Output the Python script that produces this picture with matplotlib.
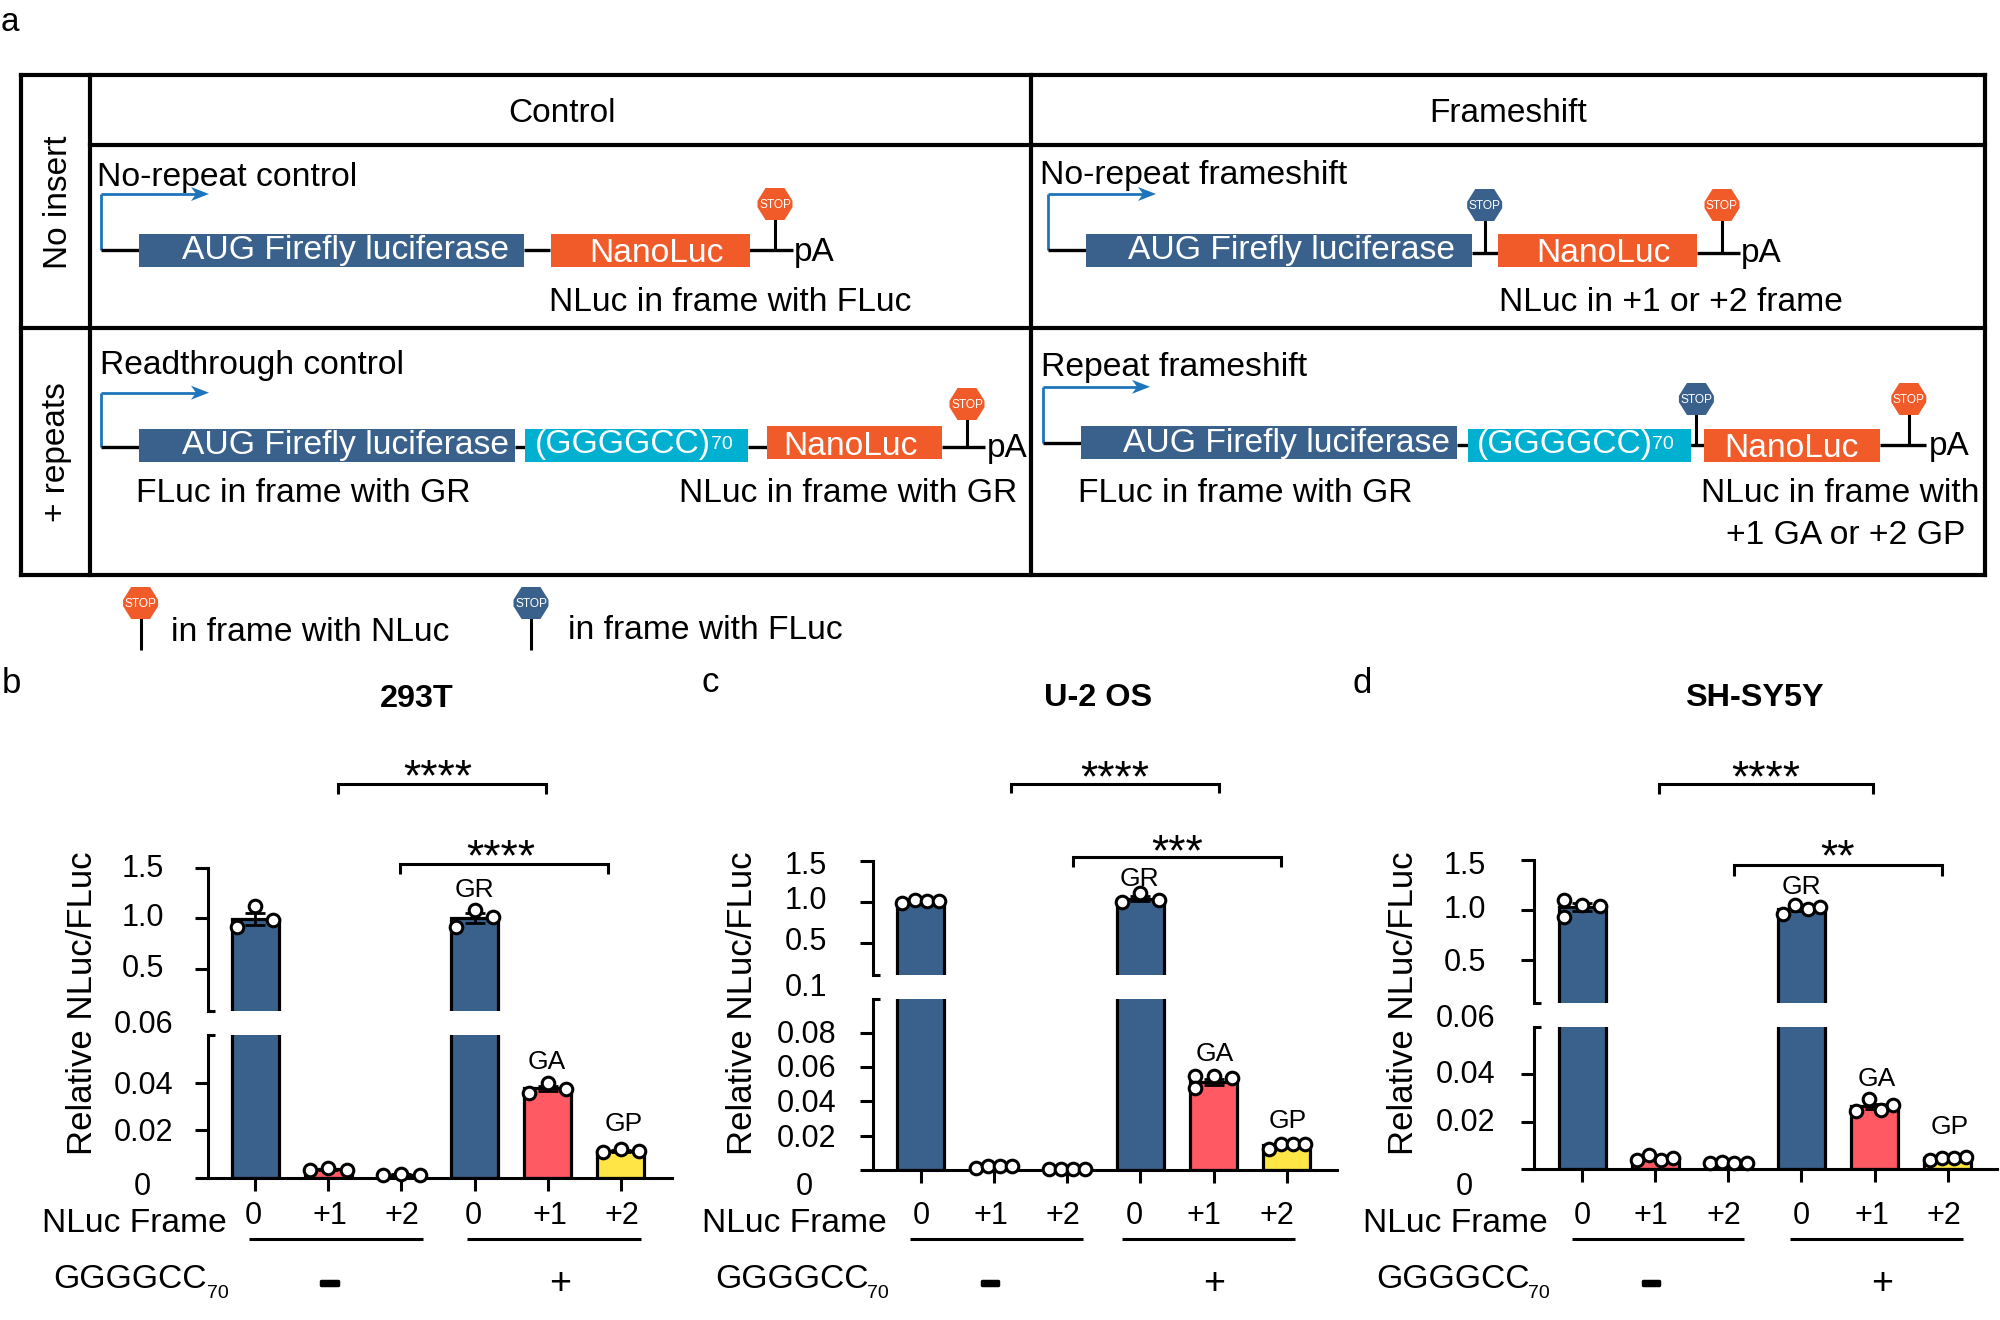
import matplotlib
matplotlib.use("Agg")
import matplotlib.pyplot as plt
import matplotlib.patheffects as pe
from matplotlib.patches import Polygon, Rectangle
from matplotlib.transforms import ScaledTranslation

plt.rcParams['font.family'] = ['Liberation Sans', 'DejaVu Sans']

BLUE = '#3A618C'; RED = '#FF5A64'; YEL = '#FFE545'; ORG = '#F15A29'; CYAN = '#00B0D0'; ARW = '#1F75BC'

frames = ['0', '+1', '+2', '0', '+1', '+2']
bar_colors = [BLUE, RED, YEL, BLUE, RED, YEL]

# ---- data
b_bars = [0.99, 0.0035, 0.0012, 1.00, 0.0377, 0.0112]
b_errs = [0.06, 0.0003, 0.0002, 0.05, 0.0012, 0.0005]
b_pts = [[0.91, 1.12, 0.98], [0.0032, 0.0040, 0.0032], [0.0010, 0.0016, 0.0010],
         [0.91, 1.08, 1.01], [0.0358, 0.0400, 0.0373], [0.0108, 0.0122, 0.0112]]
b_off = [[-.25, 0, .25]] * 6

c_bars = [1.01, 0.0018, 0.0004, 1.04, 0.0514, 0.0144]
c_errs = [0.01, 0.0002, 0.0001, 0.03, 0.0020, 0.0008]
c_pts = [[0.99, 1.02, 1.01, 1.01], [0.0012, 0.0020, 0.0020, 0.0020], [0.0003, 0.0005, 0.0004, 0.0005],
         [0.995, 1.105, 1.02], [0.0550, 0.0477, 0.0550, 0.0536], [0.0121, 0.0153, 0.0148, 0.0153]]
c_off = [[-.25, -.083, .083, .25], [-.25, -.083, .083, .25], [-.25, -.083, .083, .25],
         [-.25, 0, .25], [-.25, -.25, 0, .25], [-.25, -.083, .083, .25]]

d_bars = [1.03, 0.0047, 0.0028, 1.01, 0.0265, 0.0047]
d_errs = [0.04, 0.0004, 0.0002, 0.02, 0.0012, 0.0002]
d_pts = [[1.10, 0.93, 1.05, 1.04], [0.0041, 0.0059, 0.0041, 0.0048], [0.0025, 0.0032, 0.0025, 0.0028],
         [0.96, 1.05, 1.01, 1.03], [0.0247, 0.0297, 0.0249, 0.0272], [0.0041, 0.0048, 0.0048, 0.0050]]
d_off = [[-.25, -.25, 0, .25], [-.25, -.083, .083, .25], [-.25, -.083, .083, .25],
         [-.25, -.083, .083, .25], [-.25, -.083, .083, .25], [-.25, -.083, .083, .25]]

W, H = 2000, 1320
fig = plt.figure(figsize=(20, 13.2), dpi=100, facecolor='white')
ov = fig.add_axes([0, 0, 1, 1], zorder=5)
ov.set_xlim(0, W); ov.set_ylim(H, 0); ov.axis('off'); ov.patch.set_alpha(0)

PT = 100 / 72.0
def T(x, y, s, size, ha='center', color='k', weight='normal', rot=0, kind='cap', **kw):
    em = size * PT
    k = {'cap': 0.358, 'star': 0.49, 'low': 0.27}[kind]
    if rot == 90:
        return ov.text(x + k * em, y, s, fontsize=size, color=color, weight=weight, rotation=90,
                       rotation_mode='anchor', ha=ha, va='baseline', zorder=6, **kw)
    return ov.text(x, y + k * em, s, fontsize=size, color=color, weight=weight, ha=ha, va='baseline', zorder=6, **kw)

def L(xs, ys, lw=2.2, c='k', z=2, cap='butt'):
    ov.plot(xs, ys, color=c, lw=lw, zorder=z, solid_capstyle=cap, solid_joinstyle='miter')

def box(x0, x1, y0, y1, c, z=3):
    ov.add_patch(Rectangle((x0, y0), x1 - x0, y1 - y0, fc=c, ec='none', zorder=z))

def stop(cx, cy, c):
    w, h = 35, 32
    pts = [(-.5, -.1), (-.27, -.5), (.27, -.5), (.5, -.1), (.5, .1), (.27, .5), (-.27, .5), (-.5, .1)]
    ov.add_patch(Polygon([(cx + a * w, cy + b * h) for a, b in pts], closed=True, fc=c, ec='none', zorder=4))
    T(cx, cy, 'STOP', 8.6, color='white')

def promoter(x, y0, y1, tip, xbox):
    L([x, x], [y0, y1], lw=2, c=ARW)
    L([x, tip - 12], [y1, y1], lw=2, c=ARW)
    ov.add_patch(Polygon([(tip, y1), (tip - 18, y1 - 7), (tip - 13, y1), (tip - 18, y1 + 7)],
                         closed=True, fc=ARW, ec='none', zorder=3))
    L([x, xbox], [y0, y0], lw=2.4)

# ---- table
for xs, ys in [([21, 1985], [75, 75]), ([21, 1985], [575, 575]), ([21, 1985], [328, 328]), ([90, 1985], [145, 145]),
               ([21, 21], [75, 575]), ([90, 90], [75, 575]), ([1031, 1031], [75, 575]), ([1985, 1985], [75, 575])]:
    L(xs, ys, lw=3, cap='projecting')

T(10, 22, 'a', 24, kind='low')
T(562, 110, 'Control', 24)
T(1508, 110, 'Frameshift', 24)
T(55, 202, 'No insert', 24, rot=90)
T(53, 452, '+ repeats', 24, rot=90)

# No-repeat control
T(97, 174, 'No-repeat control', 24.3, ha='left')
promoter(101, 250, 194, 209, 139)
L([524, 550], [250, 250], lw=2.4); L([749, 793], [250, 250], lw=2.4)
box(139, 524, 233.6, 267, BLUE); box(550.5, 749.5, 233.6, 267, ORG)
L([775, 775], [250, 204]); stop(775, 204, ORG)
T(794, 249, 'pA', 24, ha='left')
T(345, 247, 'AUG Firefly luciferase', 24.2, color='white')
T(656.6, 250, 'NanoLuc', 24.2, color='white')
T(730, 299, 'NLuc in frame with FLuc', 24.2)

# Readthrough control
T(100, 362, 'Readthrough control', 24.2, ha='left')
promoter(101, 447.4, 392.7, 209, 139)
L([515, 525], [447.4, 447.4], lw=2.4); L([748, 767], [447.4, 447.4], lw=2.4); L([942, 985], [447.4, 447.4], lw=2.4)
box(139, 514.7, 428.5, 461.7, BLUE); box(525.3, 748, 428.5, 461.7, CYAN); box(766.7, 942, 426, 459, ORG)
L([967, 967], [447.4, 404]); stop(967, 404, ORG)
T(987, 445, 'pA', 24, ha='left')
T(345, 442, 'AUG Firefly luciferase', 24.2, color='white')
T(623, 441, '(GGGGCC)', 24.2, color='white')
T(721.6, 442, '70', 14, color='white')
T(850, 443, 'NanoLuc', 24.2, color='white')
T(303, 490, 'FLuc in frame with GR', 24.2)
T(848, 490, 'NLuc in frame with GR', 24.2)

# No-repeat frameshift
T(1040, 172, 'No-repeat frameshift', 24.3, ha='left')
promoter(1048, 250, 194, 1156, 1086)
L([1472, 1498], [252.5, 252.5], lw=2.4); L([1697, 1740], [252.5, 252.5], lw=2.4)
box(1086, 1472, 233.6, 266.6, BLUE); box(1498, 1697, 233.6, 266.6, ORG)
L([1484.7, 1484.7], [252.5, 205]); stop(1484.7, 205, BLUE)
L([1722, 1722], [252.5, 205]); stop(1722, 205, ORG)
T(1741, 250, 'pA', 24, ha='left')
T(1291, 247, 'AUG Firefly luciferase', 24.2, color='white')
T(1603, 250, 'NanoLuc', 24.2, color='white')
T(1671, 299, 'NLuc in +1 or +2 frame', 24.2)

# Repeat frameshift
T(1041, 364, 'Repeat frameshift', 24.3, ha='left')
promoter(1043, 442.8, 386.8, 1150, 1081)
L([1457, 1468], [445, 445], lw=2.4); L([1690, 1704], [445, 445], lw=2.4); L([1880, 1926], [445, 445], lw=2.4)
box(1081, 1457, 426, 459, BLUE); box(1467.5, 1690.7, 428.5, 462, CYAN); box(1704, 1880, 428.5, 462, ORG)
L([1696.4, 1696.4], [445, 399]); stop(1696.4, 399, BLUE)
L([1908.8, 1908.8], [445, 399]); stop(1908.8, 399, ORG)
T(1929, 443, 'pA', 24, ha='left')
T(1286.6, 440, 'AUG Firefly luciferase', 24.2, color='white')
T(1565, 441, '(GGGGCC)', 24.2, color='white')
T(1663, 442, '70', 14, color='white')
T(1791, 445, 'NanoLuc', 24.2, color='white')
T(1245, 490, 'FLuc in frame with GR', 24.2)
T(1840, 490, 'NLuc in frame with', 24.2)
T(1846, 532, '+1 GA or +2 GP', 24.2)

# legend
L([140.6, 140.6], [603, 650]); stop(140.6, 603, ORG)
T(310, 629, 'in frame with NLuc', 24.2)
L([531, 531], [603, 650]); stop(531, 603, BLUE)
T(705, 627, 'in frame with FLuc', 24.2)


def off_label(lab, dx, dy):
    lab.set_transform(lab.get_transform() + ScaledTranslation(dx / 100.0, -dy / 100.0, fig.dpi_scale_trans))


def panel(p):
    sx, ex, c0, dx = p['sx'], p['ex'], p['c0'], p['dx']
    xlim = ((sx - c0) / dx, (ex - c0) / dx)
    axes = []
    for key in ('up', 'lo'):
        t, b, vb, vt = p[key]
        ax = fig.add_axes([sx / W, 1 - b / H, (ex - sx) / W, (b - t) / H], zorder=2)
        ax.patch.set_alpha(0)
        ax.set_xlim(*xlim); ax.set_ylim(vb, vt)
        for sp in ('top', 'right'):
            ax.spines[sp].set_visible(False)
        ax.spines['left'].set_linewidth(2.2)
        ax.spines['bottom'].set_linewidth(2.2)
        ax.tick_params(axis='y', length=13 / PT, width=2.2, pad=0, labelsize=22)
        ax.tick_params(axis='x', length=13 / PT, width=2.2, pad=0, labelsize=22)
        for i in range(6):
            v = p['bars'][i]
            if key == 'up' and v < vb:
                continue
            ax.bar([i], [v], width=47 / dx, color=bar_colors[i], edgecolor='k', linewidth=2.3, zorder=2)
            if key == 'lo' and v > vt:
                continue
            ax.errorbar([i], [v], yerr=[p['errs'][i]], color='k', lw=2, capsize=7, capthick=2, zorder=3)
            ax.scatter([i + o for o in p['off'][i]], p['pts'][i], s=82, fc='white', ec='k', lw=2.2,
                       zorder=4, clip_on=False)
        axes.append(ax)
    up, lo = axes
    up.spines['bottom'].set_visible(False)
    up.set_xticks([])
    lo.set_xticks(range(6)); lo.set_xticklabels(frames)

    def ylabs(ax, ticks, labels, targets, hide=()):
        ax.set_yticks(ticks); ax.set_yticklabels(labels)
        tr = ax.transData
        for tk, lab, v, (rx, cy) in zip(ax.yaxis.get_major_ticks(), ax.get_yticklabels(), ticks, targets):
            lab.set_ha('right'); lab.set_va('baseline')
            ypx = H - tr.transform((0, v))[1]
            off_label(lab, rx - (sx - 13), cy + 0.358 * 22 * PT - ypx)
            if v in hide:
                tk.tick1line.set_visible(False)

    ylabs(up, p['up_t'], p['up_l'], p['up_p'], hide=(p['up'][2],))
    ylabs(lo, p['lo_t'], p['lo_l'], p['lo_p'], hide=(p['lo'][3],))

    ybase = 1213.5 + 0.358 * 22 * PT
    axis_y = p['lo'][1]
    for i, (lab, fx) in enumerate(zip(lo.get_xticklabels(), p['fx'])):
        lab.set_va('baseline')
        off_label(lab, fx - (c0 + i * dx), ybase - (axis_y + 13))

    lo.yaxis.set_label_coords((p['yl'] + 0.358 * p['yls'] * PT) / W, 1 - 1003 / H, transform=fig.transFigure)
    lo.set_ylabel('Relative NLuc/FLuc', fontsize=p['yls'], va='baseline', ha='center')

    # axis break caps
    L([sx, sx + 7], [p['up'][1], p['up'][1]])
    L([sx, sx + 7], [p['lo'][0], p['lo'][0]])

    T(p['letter'][0], p['letter'][1], p['name'], 25, kind='low' if p['name'] == 'c' else 'cap')
    T(p['title'][0], p['title'][1] - 1, p['title'][2], 23.3, weight='bold')
    for x0, x1, y, y2, sx_, sy, s in p['brk']:
        L([x0, x0, x1, x1], [y2, y, y, y2], lw=2.2)
        T(sx_, sy, s, 32, kind='star')
    for (x, y), s in zip(p['tags'], ['GR', 'GA', 'GP']):
        T(x, y, s, 19)
    T(p['nf'], 1220, 'NLuc Frame', 24.2)
    for x0, x1 in p['ul']:
        L([x0, x1], [1238.7, 1238.7], lw=2.2)
    T(p['gg'], 1275.6, 'GGGGCC', 24.2, ha='left')
    T(p['sub'], 1291, '70', 14, ha='left')
    T(p['minus'], 1283, '\u2013', 24, weight='bold', kind='low',
      path_effects=[pe.withStroke(linewidth=2.5, foreground='k')])
    T(p['plus'], 1281, '+', 27)


panel(dict(name='b', letter=(11, 681), title=(416.5, 696, '293T'), sx=207.6, ex=672, c0=255, dx=73.2,
           up=(868.3, 1011.4, 0.072, 1.5), lo=(1035.4, 1177.7, 0, 0.0601),
           bars=b_bars, errs=b_errs, pts=b_pts, off=b_off,
           up_t=[0.5, 1.0, 1.5], up_l=['0.5', '1.0', '1.5'], up_p=[(164, 966), (164, 915), (164, 866)],
           lo_t=[0, 0.02, 0.04, 0.0601], lo_l=['0', '0.02', '0.04', '0.06'],
           lo_p=[(151, 1184), (173, 1130), (173, 1082.6), (173, 1022)],
           fx=[253, 329.5, 402, 473, 550, 622], yl=79.5, yls=25,
           brk=[(337.5, 546, 784, 794, 438, 769, '****'), (399.5, 608, 864, 874, 501, 849, '****')],
           tags=[(474.5, 888), (547, 1060), (623.6, 1122)], nf=134, ul=[(249, 423), (467, 641)],
           gg=53.6, sub=207, minus=329.5, plus=560))

panel(dict(name='c', letter=(710, 683), title=(1098, 695, 'U-2 OS'), sx=872.8, ex=1337.4, c0=920.7, dx=73.24,
           up=(861, 974.8, 0.109, 1.5), lo=(998.8, 1169.7, 0, 0.1002),
           bars=c_bars, errs=c_errs, pts=c_pts, off=c_off,
           up_t=[0.109, 0.5, 1.0, 1.5], up_l=['0.1', '0.5', '1.0', '1.5'],
           up_p=[(827.3, 985), (827.3, 939), (827.3, 898), (827.3, 863)],
           lo_t=[0, 0.02, 0.04, 0.06, 0.08, 0.1002], lo_l=['0', '0.02', '0.04', '0.06', '0.08', ''],
           lo_p=[(813, 1184), (836.6, 1136.4), (836.6, 1101.5), (836.6, 1066), (836.6, 1031.6), (836.6, 1000)],
           fx=[921.6, 990.6, 1063, 1134.5, 1204.4, 1276.4], yl=739.8, yls=25,
           brk=[(1011, 1219, 784, 793, 1115, 770, '****'), (1072.7, 1281, 857, 867, 1177, 844, '***')],
           tags=[(1139.6, 877), (1214.5, 1052), (1288, 1119)], nf=794.7, ul=[(910, 1083), (1122, 1295)],
           gg=715, sub=867, minus=990, plus=1214.5))

panel(dict(name='d', letter=(1362, 681), title=(1754.6, 695, 'SH-SY5Y'), sx=1534, ex=1997, c0=1582, dx=73.16,
           up=(860.3, 1003.4, 0.06, 1.5), lo=(1027, 1169.3, 0, 0.06),
           bars=d_bars, errs=d_errs, pts=d_pts, off=d_off,
           up_t=[0.5, 1.0, 1.5], up_l=['0.5', '1.0', '1.5'], up_p=[(1486, 959.7), (1486, 907.5), (1486, 863)],
           lo_t=[0, 0.02, 0.04, 0.06], lo_l=['0', '0.02', '0.04', '0.06'],
           lo_p=[(1472.6, 1184), (1495, 1119.6), (1495, 1072.5), (1495, 1015.6)],
           fx=[1582, 1651.4, 1723.8, 1801.7, 1871.6, 1943.5], yl=1401, yls=25,
           brk=[(1659.4, 1872.8, 784, 794, 1766, 770, '****'), (1733.5, 1942, 865.4, 875.5, 1837.5, 849, '**')],
           tags=[(1801, 885), (1876.6, 1076.7), (1949.4, 1125)], nf=1455.5, ul=[(1571.5, 1744), (1789.5, 1962.5)],
           gg=1375.8, sub=1528, minus=1651, plus=1881.7))

fig.savefig('out.png', dpi=100)
